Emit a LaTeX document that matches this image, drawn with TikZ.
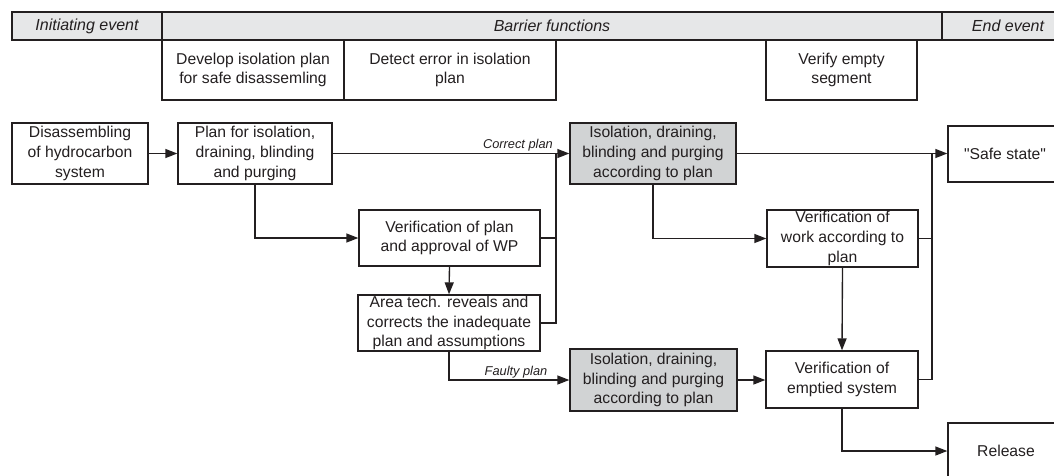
\documentclass[tikz,border=0pt]{standalone}
\usepackage{fontspec}
% TeXOff keeps the double quote straight
\setmainfont{Liberation Sans}[Ligatures=TeXOff]
\usetikzlibrary{arrows.meta}
\definecolor{ink}{HTML}{231F20}
\definecolor{headfill}{HTML}{E6E7E8}
\definecolor{boxfill}{HTML}{D1D3D4}
\begin{document}
\begin{tikzpicture}[x=1pt,y=-1pt,
  every node/.style={font=\fontsize{15.7}{19.6}\selectfont, text=ink},
  box/.style={draw=ink, line width=1.35pt, fill=white, align=center, inner sep=0pt},
  grey/.style={box, fill=boxfill},
  head/.style={box, fill=headfill, font=\fontsize{16}{19}\selectfont\itshape},
  link/.style={draw=ink, line width=1.35pt},
  arr/.style={link, -{Triangle[length=12pt,width=9pt]}},
  tag/.style={font=\fontsize{12.8}{14}\selectfont\itshape, inner sep=0pt}
]
\useasboundingbox (0,0) rectangle (1054,475);
\clip (0,0) rectangle (1054,475);

% header row
\node[head, minimum width=150pt, minimum height=28pt] (hinit) at (87,26) {Initiating event};
\node[head, minimum width=780pt, minimum height=28pt] (hbar) at (552,26) {Barrier functions};
\node[head, minimum width=132pt, minimum height=28pt] (hend) at (1008,26) {End event};

% barrier function boxes
\node[box, minimum width=182pt, minimum height=60pt] (bf1) at (253,70) {Develop isolation plan\\for safe disassemling};
\node[box, minimum width=212pt, minimum height=60pt] (bf2) at (450,70) {Detect error in isolation\\plan};
\node[box, minimum width=151pt, minimum height=60pt] (bf3) at (841.5,70) {Verify empty\\segment};

% process boxes
\node[box, minimum width=136pt, minimum height=61pt] (dis) at (80,153.5) {Disassembling\\of hydrocarbon\\system};
\node[box, minimum width=154pt, minimum height=61pt] (plan) at (255,153.5) {Plan for isolation,\\draining, blinding\\and purging};
\node[grey, minimum width=166pt, minimum height=61pt] (g1) at (653,153.5) {Isolation, draining,\\blinding and purging\\according to plan};
\node[box, minimum width=114pt, minimum height=56pt] (safe) at (1005,154) {"Safe state"};
\node[box, minimum width=181pt, minimum height=56pt] (vplan) at (449.5,238) {Verification of plan\\and approval of WP};
\node[box, minimum width=151pt, minimum height=57pt] (vwork) at (842.5,238.5) {Verification of\\work according to\\plan};
\node[box, minimum width=182pt, minimum height=56pt] (area) at (449,323) {Area tech. reveals and\\corrects the inadequate\\plan and assumptions};
\node[grey, minimum width=167pt, minimum height=62pt] (g2) at (653.5,380) {Isolation, draining,\\blinding and purging\\according to plan};
\node[box, minimum width=152pt, minimum height=57pt] (empt) at (842,379.5) {Verification of\\emptied system};
\node[box, minimum width=116pt, minimum height=56pt] (rel) at (1006,451) {Release};

% junction points of the merging lines
\coordinate (j1) at (556,153.5);
\coordinate (j2) at (932,153.5);

% connectors
\draw[arr] (dis) -- (plan);
\draw[arr] (plan.east) -- (g1.west);
\draw[arr] (plan.south) |- (vplan.west);
\draw[link] (vplan.east) -- (vplan.east -| j1);
\draw[link] (area.east) -| (j1);
\draw[arr] (vplan.south) -- (area.north);
\draw[arr] (area.south) |- (g2.west);
\draw[arr] (g1.east) -- (g1.east -| safe.west);
\draw[arr] (g1.south) |- (vwork.west);
\draw[link] (vwork.east) -- (vwork.east -| j2);
\draw[link] (empt.east) -| (j2);
\draw[arr] (vwork.south) -- (empt.north);
\draw[arr] (g2.east) -- (g2.east -| empt.west);
\draw[arr] (empt.south) |- (rel.west);

% connector labels
\node[tag, anchor=base east] (lcorrect) at (553,148) {Correct plan};
\node[tag, anchor=base] (lfaulty) at (516,375) {Faulty plan};
\end{tikzpicture}
\end{document}
